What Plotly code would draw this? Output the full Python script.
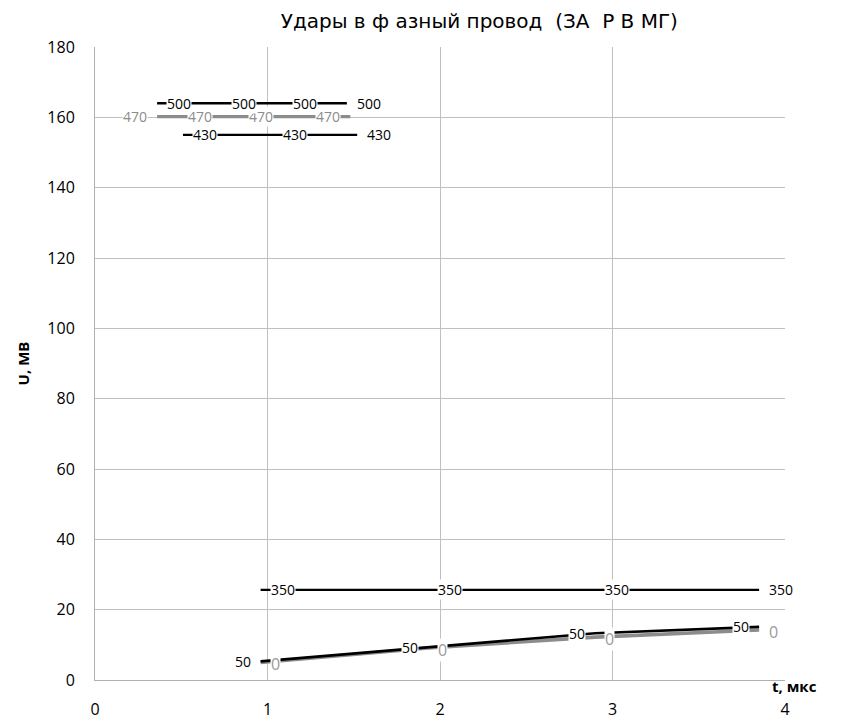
import plotly.graph_objects as go

# ---- data ----
x_500 = [0.36, 0.735, 1.09, 1.46]
y_500 = [164.0, 164.0, 164.0, 164.0]
t_500 = ["500", "500", "500", "500"]

x_470 = [0.36, 0.735, 1.09, 1.48]
y_470 = [160.2, 160.2, 160.2, 160.2]
t_470 = ["470", "470", "470", "470"]

x_430 = [0.51, 1.03, 1.52]
y_430 = [155.0, 155.0, 155.0]
t_430 = ["430", "430", "430"]

x_350 = [0.96, 1.93, 2.90, 3.85]
y_350 = [25.6, 25.6, 25.6, 25.6]
t_350 = ["350", "350", "350", "350"]

x_50 = [0.96, 1.93, 2.90, 3.85]
y_50 = [5.3, 9.3, 13.3, 15.1]
t_50 = ["50", "50", "50", "50"]

x_0 = [0.96, 1.93, 2.90, 3.85]
y_0 = [5.0, 9.1, 12.2, 14.2]
t_0 = ["0", "0", "0", "0"]

x_ticks = [0, 1, 2, 3, 4]
y_ticks = [0, 20, 40, 60, 80, 100, 120, 140, 160, 180]

title_text = "Удары в ф азный провод  (ЗА  Р В МГ)"
x_title = "t, мкс"
y_title = "U, MB"

BLACK = "#000000"
GRAY = "#8c8c8c"
FONT = "Open Sans"

series = [
    # x, y, labels, line color, label color, width, side, label size
    (x_470, y_470, t_470, GRAY, GRAY, 3.2, "left", 14),
    (x_500, y_500, t_500, BLACK, BLACK, 2.3, "right", 14),
    (x_430, y_430, t_430, BLACK, BLACK, 2.3, "right", 14),
    (x_350, y_350, t_350, BLACK, BLACK, 2.3, "right", 14),
    (x_0, y_0, t_0, GRAY, "#9a9a9a", 3.6, "right", 16),
    (x_50, y_50, t_50, BLACK, BLACK, 2.6, "left", 14),
]

fig = go.Figure()
annotations = []
for xs, ys, ts, lc, tc, w, side, fs in series:
    fig.add_trace(go.Scatter(x=xs, y=ys, mode="lines",
                             line=dict(color=lc, width=w),
                             showlegend=False, hoverinfo="skip"))
for xs, ys, ts, lc, tc, w, side, fs in series:
    for xv, yv, tv in zip(xs, ys, ts):
        annotations.append(dict(
            x=xv, y=yv, xref="x", yref="y", text=tv, showarrow=False,
            xanchor="left" if side == "right" else "right",
            xshift=9 if side == "right" else -9,
            yshift=-2 if fs > 14 else 0,
            bgcolor="white", borderpad=0,
            font=dict(family=FONT, size=fs, color=tc)))

annotations.append(dict(
    x=1.0, y=0, xref="paper", yref="paper", text="<b>" + x_title + "</b>",
    showarrow=False, xanchor="left", yanchor="top", xshift=-15, yshift=6,
    font=dict(family=FONT, size=15, color="#000")))

fig.update_layout(
    width=851, height=720,
    margin=dict(l=95, r=66, t=47, b=40),
    paper_bgcolor="white", plot_bgcolor="white",
    title=dict(text=title_text, x=0.557, xref="paper", xanchor="center",
               y=1 - 21 / 720, yref="container", yanchor="middle",
               font=dict(family="DejaVu Sans", size=20, color="#000")),
    xaxis=dict(range=[0, 4], tickvals=x_ticks, ticktext=[str(v) for v in x_ticks],
               showgrid=True, gridcolor="#c0c0c0", gridwidth=1,
               showline=True, linecolor="#b0b0b0", linewidth=1,
               zeroline=False, ticks="outside", ticklen=15, tickcolor="rgba(0,0,0,0)",
               automargin=False,
               tickfont=dict(family=FONT, size=16, color="#000")),
    yaxis=dict(range=[0, 180], tickvals=y_ticks, ticktext=[str(v) for v in y_ticks],
               showgrid=True, gridcolor="#c0c0c0", gridwidth=1,
               showline=True, linecolor="#b0b0b0", linewidth=1,
               zeroline=False, ticks="outside", ticklen=16, tickcolor="rgba(0,0,0,0)",
               automargin=False,
               tickfont=dict(family=FONT, size=16, color="#000"),
               title=dict(text="<b>" + y_title + "</b>", standoff=14,
                          font=dict(family=FONT, size=15, color="#000"))),
    annotations=annotations,
)

fig.write_html("out.html")
